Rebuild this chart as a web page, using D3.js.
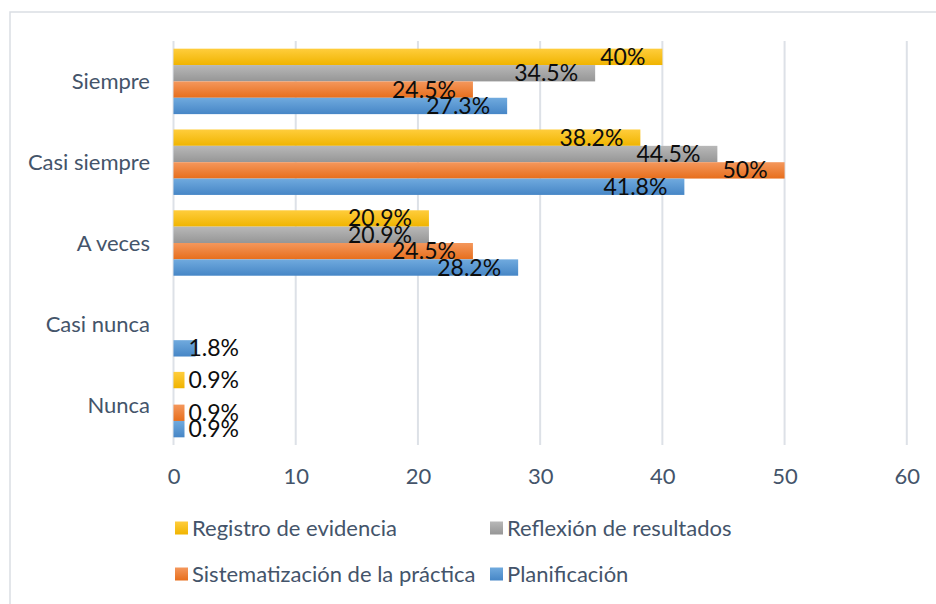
<!doctype html>
<html>
<head>
	<meta charset="utf-8">
	<script src="https://d3js.org/d3.v7.min.js"></script>
	<style>
	body { margin: 0; background: #fff; }
	svg text { font-family: Lato, "Open Sans", sans-serif; }
	.axis path { display: none; }
	</style>
</head>
<body>
<script>

// data
var categories = ["Siempre", "Casi siempre", "A veces", "Casi nunca", "Nunca"];
var seriesNames = ["Registro de evidencia", "Reflexión de resultados", "Sistematización de la práctica", "Planificación"];
var registro = [40, 38.2, 20.9, 0, 0.9];
var reflexion = [34.5, 44.5, 20.9, 0, 0];
var sistematizacion = [24.5, 50, 24.5, 0, 0.9];
var planificacion = [27.3, 41.8, 28.2, 1.8, 0.9];
var xTicks = [0, 10, 20, 30, 40, 50, 60];

var seriesValues = [registro, reflexion, sistematizacion, planificacion];
var colors = [
	["#ffcd3c", "#f0b400"],
	["#b8b8b8", "#969696"],
	["#f4975c", "#e76e1c"],
	["#70aade", "#4686c6"]
];

var width = 936, height = 604;
var textColor = "#44546a";

var svg = d3.select("body").append("svg")
	.attr("width", width)
	.attr("height", height);

// gradients for the bars
var defs = svg.append("defs");
colors.forEach(function(c, i) {
	var g = defs.append("linearGradient")
		.attr("id", "grad" + i)
		.attr("x1", 0).attr("y1", 0).attr("x2", 0).attr("y2", 1);
	g.append("stop").attr("offset", "0%").attr("stop-color", c[0]);
	g.append("stop").attr("offset", "100%").attr("stop-color", c[1]);
});

// outer frame (only top and left edges are visible)
svg.append("path")
	.attr("d", "M10," + height + "V12H" + width)
	.attr("fill", "none")
	.attr("stroke", "#dadee4")
	.attr("stroke-width", 1.5);

var xScale = d3.scaleLinear()
	.domain([0, 60])
	.range([173.5, 906.8]);

var yScale = d3.scaleBand()
	.domain(categories)
	.range([41, 445])
	.paddingInner(0.19)
	.paddingOuter(0.095);

var ySub = d3.scaleBand()
	.domain(d3.range(seriesNames.length))
	.range([0, yScale.bandwidth()]);

// gridlines
svg.append("g")
	.selectAll("line")
	.data(xTicks)
	.join("line")
	.attr("x1", function(d) { return xScale(d); })
	.attr("x2", function(d) { return xScale(d); })
	.attr("y1", 41)
	.attr("y2", 445)
	.attr("stroke", "#dde1e7")
	.attr("stroke-width", 2);

// x axis
var xAxis = d3.axisBottom(xScale)
	.tickValues(xTicks)
	.tickSize(0)
	.tickPadding(0);

var gx = svg.append("g")
	.attr("class", "axis")
	.attr("transform", "translate(0,484)")
	.call(xAxis);
gx.selectAll("text")
	.attr("dy", 0)
	.attr("y", 0)
	.attr("fill", textColor)
	.style("font-size", "22px");

// y axis labels
var yAxis = d3.axisLeft(yScale).tickSize(0).tickPadding(0);
var gy = svg.append("g")
	.attr("class", "axis")
	.attr("transform", "translate(150,0)")
	.call(yAxis);
gy.selectAll("text")
	.attr("x", 0)
	.attr("dy", "0.36em")
	.attr("fill", textColor)
	.style("font-size", "22px");

// bars and labels
var rows = [];
seriesValues.forEach(function(vals, s) {
	vals.forEach(function(v, c) {
		if (v > 0) rows.push({ s: s, cat: categories[c], v: v });
	});
});

svg.append("g")
	.selectAll("rect")
	.data(rows)
	.join("rect")
	.attr("x", xScale(0))
	.attr("y", function(d) { return yScale(d.cat) + ySub(d.s); })
	.attr("width", function(d) { return xScale(d.v) - xScale(0); })
	.attr("height", ySub.bandwidth())
	.attr("fill", function(d) { return "url(#grad" + d.s + ")"; });

svg.append("g")
	.selectAll("text")
	.data(rows)
	.join("text")
	.attr("x", function(d) { return d.v < 5 ? xScale(0) + 15 : xScale(d.v) - 17; })
	.attr("y", function(d) { return yScale(d.cat) + ySub(d.s) + ySub.bandwidth() / 2 + 8; })
	.attr("text-anchor", function(d) { return d.v < 5 ? "start" : "end"; })
	.attr("fill", "#0d0d0d")
	.style("font-size", "23px")
	.text(function(d) { return d.v + "%"; });

// legend, two columns
var legendX = [175, 490];
var legendY = [528, 574];
var legend = svg.append("g")
	.selectAll("g")
	.data(seriesNames)
	.join("g")
	.attr("transform", function(d, i) { return "translate(" + legendX[i % 2] + "," + legendY[Math.floor(i / 2)] + ")"; });

legend.append("rect")
	.attr("x", 0)
	.attr("y", -6.5)
	.attr("width", 13)
	.attr("height", 13)
	.attr("fill", function(d, i) { return "url(#grad" + i + ")"; });

legend.append("text")
	.attr("x", 17)
	.attr("dy", "0.36em")
	.attr("fill", textColor)
	.style("font-size", "22px")
	.text(function(d) { return d; });

</script>
</body>
</html>
